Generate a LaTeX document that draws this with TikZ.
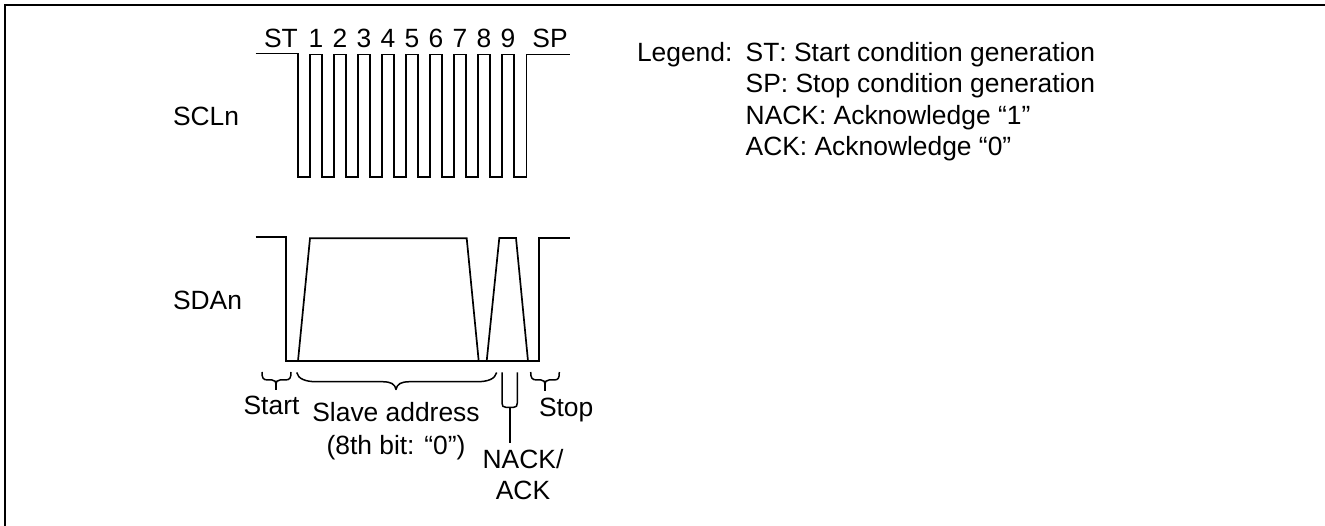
\documentclass[tikz,border=0pt]{standalone}
\usepackage{fontspec}
\setmainfont[Kerning=Off]{Liberation Sans}
\tikzset{
  wave/.style={line width=1.7pt,line cap=butt,line join=miter},
  frameline/.style={line width=2pt},
  bracemark/.style={line width=1.5pt,line join=round},
  lbl/.style={inner sep=0pt,outer sep=0pt,font=\fontsize{26.4}{31}\selectfont,text=black},
  lw/.style={lbl,anchor=base west},
  lc/.style={lbl,anchor=base}
}
\begin{document}
\begin{tikzpicture}[x=1pt,y=-1pt]
\useasboundingbox (0,0) rectangle (1325,526);
% frame (top and left only)
\draw[frameline] (1325,5) -- (5,5) -- (5,526);
% SCL
\draw[wave] (255.5,53.5) -- (298,53.5) -- (298,177)
  \foreach \i in {0,...,8} { -- ({310+24*\i},177) -- ({310+24*\i},54.5) -- ({322+24*\i},54.5) -- ({322+24*\i},177) }
  -- (526.5,177) -- (526.5,54.5) -- (569.5,54.5);
% SDA
\draw[wave] (255.5,236.7) -- (286,236.7) -- (286,361) -- (539,361) -- (539,238.3) -- (569.5,238.3);
\draw[wave] (298,361) -- (310,238.3) -- (466.7,238.3) -- (478.7,361);
\draw[wave] (486.7,361) -- (499.3,238) -- (516,238) -- (528,361);
% braces
\draw[bracemark] (262,372) .. controls (262,378) and (263,380) .. (268,380) -- (272,380) .. controls (275,380) and (276,382) .. (276,384) .. controls (276,382) and (277,380) .. (280,380) -- (285,380) .. controls (290,380) and (291,378) .. (291,372);
\draw[bracemark] (276,384) -- (276,390);
\draw[bracemark] (296.7,372.5) .. controls (298,379) and (306,381.7) .. (316,381.7) -- (382,381.7) .. controls (391,381.7) and (395,384) .. (396,389.5) .. controls (397,384) and (401,381.7) .. (410,381.7) -- (477,381.7) .. controls (488,381.7) and (495,379) .. (496.7,372.5);
\draw[bracemark] (530.7,372) .. controls (530.7,378) and (532,380) .. (537,380) -- (541,380) .. controls (544,380) and (545,382) .. (545,384) .. controls (545,382) and (546,380) .. (549,380) -- (554,380) .. controls (558.5,380) and (559.3,378) .. (559.3,372);
\draw[bracemark] (545,384) -- (545,391);
% NACK bracket
\draw[bracemark] (502,372.5) -- (502,403) .. controls (502,406) and (503,407.3) .. (506,407.3) -- (513.5,407.3) .. controls (516.5,407.3) and (517.3,406) .. (517.3,403) -- (517.3,372.5);
\draw[line width=2.2pt] (509.7,407) -- (509.7,443.3);
% labels
\node[lw] (scl) at (173,126) {SCLn};
\node[lw] (sda) at (173,310) {SDAn};
\node[lc] (st) at (281,48) {ST};
\foreach \i in {1,...,9} { \node[lc] (d\i) at ({316+24*(\i-1)},48) {\i}; }
\node[lc] (sp) at (550,48) {SP};
\node[lw] (leg) at (637,62) {Legend:};
\node[lw] (l1) at (745.7,62) {ST: Start condition generation};
\node[lw] (l2) at (745.7,93) {SP: Stop condition generation};
\node[lw] (l3) at (745.7,124.5) {NACK: Acknowledge “1”};
\node[lw] (l4) at (745.7,156) {ACK: Acknowledge “0”};
\node[lc] (start) at (271.5,414) {Start};
\node[lc] (sa) at (396,421.7) {Slave address};
\node[lc] (bit) at (396,454) {(8th bit: “0”)};
\node[lc] (nack) at (523,468.7) {NACK/};
\node[lc] (ack) at (523,499) {ACK};
\node[lw] (stop) at (539,416) {Stop};
\end{tikzpicture}
\end{document}
